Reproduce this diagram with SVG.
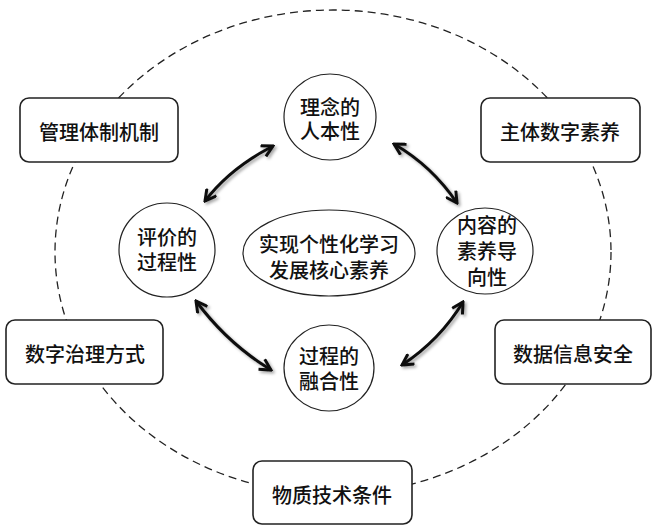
<svg xmlns="http://www.w3.org/2000/svg" width="654" height="528" viewBox="0 0 654 528">
<style>
text{font-family:"Noto Sans CJK SC","Noto Sans",sans-serif;font-size:20px;fill:#111;text-anchor:middle;dominant-baseline:central;font-weight:500}
.box{fill:#fff;stroke:#222;stroke-width:1.6}
.ell{fill:#fff;stroke:#222;stroke-width:1.2}
.arr{fill:none;stroke:#111;stroke-width:3;marker-start:url(#ah);marker-end:url(#ah);filter:url(#sh)}
</style>
<defs>
<marker id="ah" viewBox="0 0 14 14" refX="12" refY="7" markerWidth="14" markerHeight="14" markerUnits="userSpaceOnUse" orient="auto-start-reverse">
<path d="M1,1 L12,7 L1,13" fill="none" stroke="#111" stroke-width="3" stroke-linejoin="miter"/>
</marker>
<filter id="sh" x="-30%" y="-30%" width="160%" height="160%">
<feDropShadow dx="2" dy="2" stdDeviation="1.5" flood-color="#000" flood-opacity="0.35"/>
</filter>
</defs>
<rect width="654" height="528" fill="#fff"/>
<ellipse cx="333" cy="252" rx="278" ry="242" fill="none" stroke="#222" stroke-width="1.3" stroke-dasharray="8 5"/>
<g id="connectors">
<path class="arr" d="M205,201 Q230,168 273,146"/>
<path class="arr" d="M394,144 Q432,166 457,203"/>
<path class="arr" d="M196,301 Q227,343 271,370"/>
<path class="arr" d="M402,365 Q440,340 463,302"/>
</g>
<g id="n-guanli"><rect class="box" x="20" y="98" width="158" height="64" rx="9"/><text x="99" y="131">管理体制机制</text></g>
<g id="n-zhuti"><rect class="box" x="481" y="98" width="159" height="64" rx="9"/><text x="560" y="131">主体数字素养</text></g>
<g id="n-shuzi"><rect class="box" x="6" y="320" width="157" height="64" rx="9"/><text x="85" y="353">数字治理方式</text></g>
<g id="n-shuju"><rect class="box" x="495" y="320" width="156" height="64" rx="9"/><text x="573" y="353">数据信息安全</text></g>
<g id="n-wuzhi"><rect class="box" x="253" y="461" width="159" height="63" rx="9"/><text x="332" y="494">物质技术条件</text></g>
<g id="n-linian"><ellipse class="ell" cx="330" cy="117" rx="46" ry="43"/><text x="330" y="106">理念的</text><text x="330" y="130">人本性</text></g>
<g id="n-pingjia"><ellipse class="ell" cx="167" cy="250" rx="48" ry="47"/><text x="167" y="236">评价的</text><text x="167" y="261">过程性</text></g>
<g id="n-center"><ellipse class="ell" cx="329" cy="253" rx="86" ry="43"/><text x="329" y="243">实现个性化学习</text><text x="329" y="269">发展核心素养</text></g>
<g id="n-neirong"><ellipse class="ell" cx="485" cy="251" rx="48" ry="43"/><text x="487" y="224">内容的</text><text x="487" y="250">素养导</text><text x="487" y="276">向性</text></g>
<g id="n-guocheng"><ellipse class="ell" cx="329" cy="368" rx="45" ry="43"/><text x="329" y="355">过程的</text><text x="329" y="380">融合性</text></g>
</svg>
